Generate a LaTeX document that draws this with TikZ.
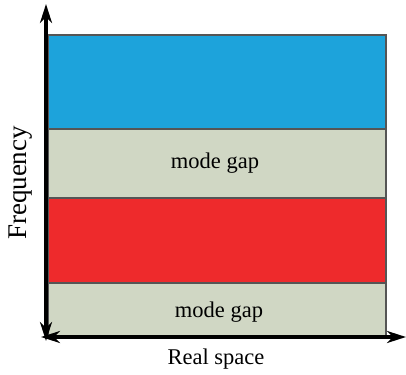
\documentclass[tikz,border=0pt]{standalone}
\usepackage{fontspec}
\setmainfont{Liberation Serif}
\usetikzlibrary{arrows.meta}
\definecolor{blueband}{HTML}{1DA3DB}
\definecolor{grayband}{HTML}{D0D7C4}
\definecolor{redband}{HTML}{EE2A2C}
\definecolor{bandedge}{HTML}{555555}
\begin{document}
\begin{tikzpicture}[x=1pt,y=-1pt,
  band/.style={draw=bandedge, line width=1.4pt, minimum width=338pt, inner sep=0pt, outer sep=0pt},
  lbl/.style={font=\fontsize{22.5}{26}\selectfont, inner sep=0pt},
  axis/.style={line width=3.5pt, {Stealth[length=19pt,width=12pt,inset=6pt]}-{Stealth[length=19pt,width=12pt,inset=6pt]}}]
\useasboundingbox (0,0) rectangle (406,374);
\node[band, fill=blueband, minimum height=94pt] (b1) at (217,82) {};
\node[band, fill=grayband, minimum height=69pt] (g1) at (217,163.5) {};
\node[band, fill=redband, minimum height=85pt] (r1) at (217,240.5) {};
\node[band, fill=grayband, minimum height=54pt] (g2) at (217,310) {};
\node[lbl] (m1) at (215,163) {mode gap};
\node[lbl] (m2) at (219,312) {mode gap};
\coordinate (ytop) at (46,4);
\coordinate (ybot) at (46,341);
\coordinate (xl) at (41,337);
\coordinate (xr) at (406,337);
\draw[axis] (ybot) -- (ytop);
\draw[axis] (xl) -- (xr);
\node[lbl] (xlab) at (216,359) {Real space};
\node[lbl, rotate=90, font=\fontsize{27}{30}\selectfont] (ylab) at (21,183) {Frequency};
\end{tikzpicture}
\end{document}
